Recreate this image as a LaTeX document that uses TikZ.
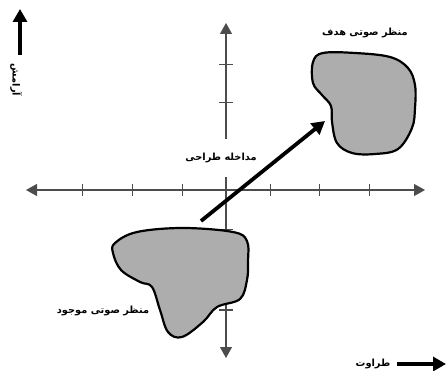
\documentclass[tikz,border=0pt]{standalone}
\usepackage{fontspec}
\newfontfamily\arabicfont[Script=Arabic]{DejaVu Sans}
\TeXXeTstate=1
\usetikzlibrary{arrows.meta}

\tikzset{
    axis/.style={draw=black!70, line width=1.1pt, {Triangle[width=12pt,length=11pt]}-{Triangle[width=12pt,length=11pt]}},
    tick/.style={draw=black!70, line width=1pt},
    blob/.style={draw=black, line width=2.2pt, fill=black!32},
    bigarrow/.style={line width=3.8pt, -{Triangle[width=14pt,length=13pt]}},
    lbl/.style={font=\arabicfont\bfseries\fontsize{9.8}{12}\selectfont, inner sep=1pt}
}

\begin{document}
\begin{tikzpicture}[x=1pt, y=-1pt]
    \useasboundingbox (0,0) rectangle (447,371);

    % axes
    \coordinate (west) at (26,190);
    \coordinate (east) at (425,190);
    \coordinate (north) at (226,23);
    \coordinate (south) at (226,358);
    \draw[axis] (west) -- (east);
    \draw[axis] (south) -- (north);
    \foreach \x in {82,132,182,270,319,369}
        \draw[tick] (\x,184) -- (\x,196);
    \foreach \y in {65,103,230,270,310}
        \draw[tick] (219,\y) -- (233,\y);

    % target soundscape
    \draw[blob] plot[smooth cycle, tension=0.6] coordinates {
        (313,62) (323,53) (355,53) (390,57) (408,68) (415,85) (415,108) (412,128)
        (398,149) (375,154) (352,153) (337,143) (332,122) (331,106) (322,95) (313,83)};
    \node[lbl] (hadaf) at (365,33) {\beginR منظر صوتی هدف\endR};

    % existing soundscape
    \draw[blob] plot[smooth cycle, tension=0.6] coordinates {
        (115,243) (137,232) (183,228) (233,232) (247,241) (248,262) (247,280)
        (240,299) (217,307) (203,322) (182,337) (168,332) (160,310) (152,287)
        (140,282) (121,270) (113,253)};
    \node[lbl] (mojud) at (103,311) {\beginR منظر صوتی موجود\endR};

    % design intervention
    \node[lbl, fill=white, minimum height=38pt] (modakhele) at (221,158) {\beginR مداخله طراحی\endR};
    \coordinate (tail) at (201,221);
    \coordinate (head) at (325,121);
    \draw[bigarrow] (tail) -- (head);

    % legend arrows
    \coordinate (upfoot) at (20,55);
    \coordinate (uptip) at (20,9);
    \draw[bigarrow] (upfoot) -- (uptip);
    \node[lbl, rotate=-90] (aramesh) at (16,80) {\beginR آرامش\endR};

    \node[lbl] (taravat) at (373,364) {\beginR طراوت\endR};
    \coordinate (rightfoot) at (397,364);
    \coordinate (righttip) at (446,364);
    \draw[bigarrow] (rightfoot) -- (righttip);
\end{tikzpicture}
\end{document}
